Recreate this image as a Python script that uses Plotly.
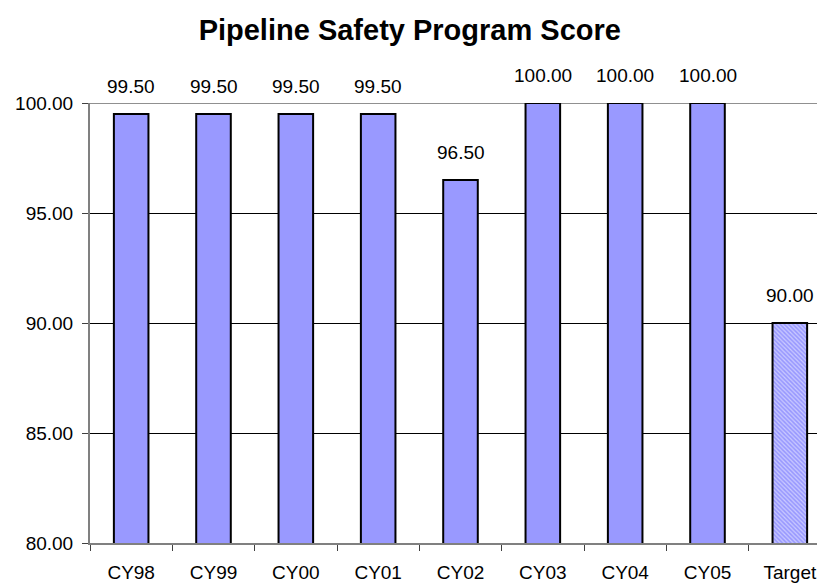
import plotly.graph_objects as go

categories = ["CY98", "CY99", "CY00", "CY01", "CY02", "CY03", "CY04", "CY05", "Target"]
scores = [99.50, 99.50, 99.50, 99.50, 96.50, 100.00, 100.00, 100.00, 90.00]
y_ticks = [80, 85, 90, 95, 100]

patterns = ["" if c != "Target" else "\\" for c in categories]
FONT = "Arial, 'Liberation Sans', sans-serif"

fig = go.Figure()
fig.add_trace(go.Bar(
    x=categories,
    y=scores,
    width=0.42,
    marker=dict(
        color="#9999FF",
        line=dict(color="black", width=2),
        pattern=dict(shape=patterns, fgcolor="white", bgcolor="#9999FF", size=3, solidity=0.4),
    ),
    cliponaxis=False,
))

for c, v in zip(categories, scores):
    fig.add_annotation(x=c, y=v, text=f"{v:.2f}", showarrow=False, yanchor="middle",
                       yshift=28, font=dict(family=FONT, size=19, color="black"))

# top gridline drawn gray as in the reference
fig.add_shape(type="line", xref="paper", x0=0, x1=1, yref="y", y0=max(y_ticks), y1=max(y_ticks),
              line=dict(color="#909090", width=2), layer="below")

fig.update_layout(
    width=825, height=584,
    margin=dict(l=82, r=2, t=95, b=49),
    paper_bgcolor="white", plot_bgcolor="white",
    showlegend=False,
    title=dict(text="<b>Pipeline Safety Program Score</b>", x=0.487, xanchor="center", y=0.962, yanchor="middle",
               font=dict(family=FONT, size=29, color="black")),
    font=dict(family=FONT, size=19, color="black"),
)
fig.update_yaxes(
    range=[80, 100], tickvals=y_ticks, ticktext=[f"{t:.2f}" for t in y_ticks],
    showgrid=True, gridcolor="black", gridwidth=1,
    showline=True, linecolor="#808080", linewidth=2,
    ticks="outside", ticklen=6, tickcolor="#404040", zeroline=False,
    tickfont=dict(size=19), ticklabelstandoff=5,
)
fig.update_xaxes(
    showline=True, linecolor="#808080", linewidth=2,
    ticks="outside", ticklen=6, tickcolor="#404040", tickson="boundaries",
    tickfont=dict(size=19), ticklabelstandoff=11,
)

fig.write_html("out.html")
